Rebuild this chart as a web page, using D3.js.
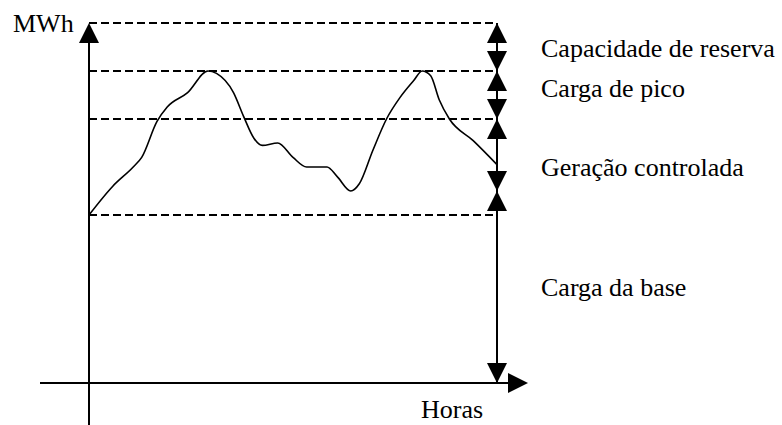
<!DOCTYPE html>
<html lang="pt">
    <head>
        <meta charset="utf-8">
        <title>Curva de carga</title>
        <script src="https://cdn.jsdelivr.net/npm/d3@7/dist/d3.min.js" charset="utf-8"></script>
        <style>
            body { margin: 0; background: #fff; }
        </style>
    </head>
    <body>
        <div id="chart"></div>
        <script>
            // curva de carga diaria (horas, MWh em unidades relativas)
            var horas = [0, 1.4, 2.6, 3.1, 4.0, 4.6, 5.8, 7.0, 7.5, 8.5, 9.1, 9.7, 10.2, 11.1, 12.0,
                         12.8, 14.0, 14.6, 15.4, 15.9, 16.7, 17.5, 18.3, 19.1, 19.6, 20.1, 20.6, 21.2, 22.6, 24];
            var carga = [7.0, 8.2, 9.0, 9.4, 10.9, 11.5, 12.1, 13.0, 12.9, 12.1, 11.1, 10.2, 9.9, 10.0, 9.4,
                         9.0, 9.0, 8.6, 8.0, 8.3, 9.7, 11.0, 11.9, 12.6, 13.0, 12.8, 11.8, 11.0, 10.1, 9.1];

            // niveis tracejados
            var niveis = [15, 13, 11, 7];
            // limites das faixas (setas a direita)
            var limites = [15, 13, 11, 8, 0];
            var faixas = ["Capacidade de reserva", "Carga de pico", "Geração controlada", "Carga da base"];
            var eixoY = "MWh";
            var eixoX = "Horas";

            var width = 782, height = 425;
            var fonte = "'Liberation Serif', 'Times New Roman', Times, serif";
            var tamanho = "26px";

            var svg = d3.select("#chart").append("svg")
                .attr("width", width)
                .attr("height", height);

            var x = d3.scaleLinear().domain([0, 24]).range([89, 497]);
            var y = d3.scaleLinear().domain([0, 15]).range([383, 23]);

            function seta(px, py, dir) {
                // triangulo com ponta em (px, py); dir = -1 para cima, 1 para baixo
                var b = py - dir * 20;
                return "M" + px + "," + py + "L" + (px - 10) + "," + b + "L" + (px + 10) + "," + b + "Z";
            }

            // linhas tracejadas
            svg.selectAll(".nivel")
                .data(niveis)
                .enter()
                .append("line")
                .attr("class", "nivel")
                .attr("x1", x(0))
                .attr("x2", x(24))
                .attr("y1", function(d) { return y(d); })
                .attr("y2", function(d) { return y(d); })
                .style("stroke", "#000")
                .style("stroke-width", 2)
                .style("stroke-dasharray", "8,4");

            // eixo vertical
            svg.append("line")
                .attr("x1", x(0)).attr("x2", x(0))
                .attr("y1", y(15) + 10).attr("y2", height)
                .style("stroke", "#000")
                .style("stroke-width", 2);
            svg.append("path")
                .attr("d", seta(x(0), y(15), -1))
                .style("fill", "#000");

            // eixo horizontal
            svg.append("line")
                .attr("x1", 40).attr("x2", 512)
                .attr("y1", y(0)).attr("y2", y(0))
                .style("stroke", "#000")
                .style("stroke-width", 2);
            svg.append("path")
                .attr("d", "M528," + y(0) + "L508," + (y(0) - 10) + "L508," + (y(0) + 10) + "Z")
                .style("fill", "#000");

            // linha vertical a direita
            svg.append("line")
                .attr("x1", x(24)).attr("x2", x(24))
                .attr("y1", y(15)).attr("y2", y(0))
                .style("stroke", "#000")
                .style("stroke-width", 2);

            // setas das faixas
            var bandas = faixas.map(function(f, i) {
                return { nome: f, topo: limites[i], base: limites[i + 1] };
            });
            bandas.forEach(function(b) {
                svg.append("path")
                    .attr("d", seta(x(24), y(b.topo), -1))
                    .style("fill", "#000");
                svg.append("path")
                    .attr("d", seta(x(24), y(b.base), 1))
                    .style("fill", "#000");
            });

            // rotulos das faixas
            var ajuste = [10, 2, 21, 9];
            svg.selectAll(".faixa")
                .data(bandas)
                .enter()
                .append("text")
                .attr("class", "faixa")
                .attr("x", 541)
                .attr("y", function(d, i) {
                    return (y(d.topo) + y(d.base)) / 2 + ajuste[i];
                })
                .style("font-family", fonte)
                .style("font-size", tamanho)
                .text(function(d) { return d.nome; });

            // curva de carga
            var pontos = horas.map(function(h, i) { return [h, carga[i]]; });
            var linha = d3.line()
                .x(function(d) { return x(d[0]); })
                .y(function(d) { return y(d[1]); })
                .curve(d3.curveMonotoneX);
            svg.append("path")
                .datum(pontos)
                .attr("d", linha)
                .style("fill", "none")
                .style("stroke", "#000")
                .style("stroke-width", 1.6);

            // titulos dos eixos
            svg.append("text")
                .attr("x", 13)
                .attr("y", 32)
                .style("font-family", fonte)
                .style("font-size", tamanho)
                .text(eixoY);
            svg.append("text")
                .attr("x", 421)
                .attr("y", 418)
                .style("font-family", fonte)
                .style("font-size", tamanho)
                .text(eixoX);
        </script>
    </body>
</html>
